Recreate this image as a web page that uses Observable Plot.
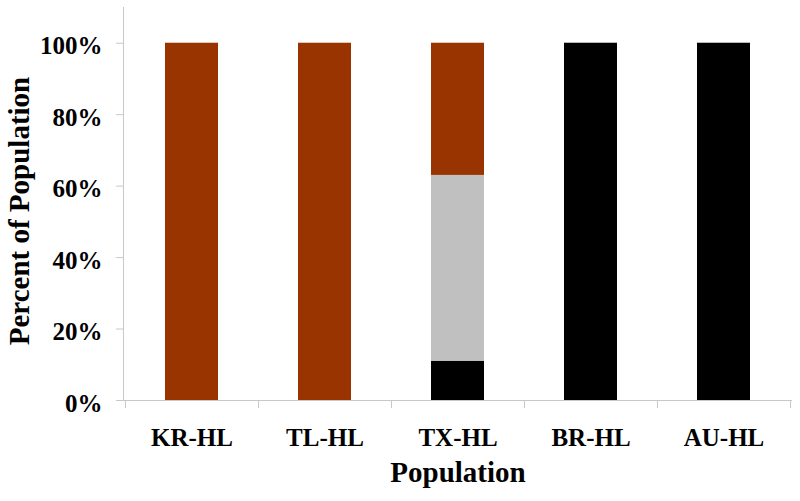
<!DOCTYPE html>
<html>
<head>
<meta charset="utf-8">
<script src="https://cdn.jsdelivr.net/npm/d3@7"></script>
<script src="https://cdn.jsdelivr.net/npm/@observablehq/plot@0.6"></script>
<style>
  html, body { margin: 0; padding: 0; background: #fff; }
</style>
</head>
<body>
<div id="chart"></div>
<script>
// ---- data ----
const populations = ["KR-HL", "TL-HL", "TX-HL", "BR-HL", "AU-HL"];
const seriesNames = ["Group A", "Group B", "Group C"]; // stacked bottom to top
const groupA = [0, 0, 11, 100, 100];   // black
const groupB = [0, 0, 52, 0, 0];       // gray
const groupC = [100, 100, 37, 0, 0];   // brown
const seriesColors = ["#000000", "#c0c0c0", "#993300"];
const yTicks = [0, 20, 40, 60, 80, 100];
const xTitle = "Population";
const yTitle = "Percent of Population";

const seriesValues = [groupA, groupB, groupC];
const rows = [];
seriesNames.forEach((s, si) => {
  populations.forEach((p, pi) => rows.push({population: p, series: s, value: seriesValues[si][pi]}));
});

const axisGray = "#c8c8c8";
const fontFamily = "'Liberation Serif', 'Times New Roman', serif";

function axisLines(index, scales, values, dimensions) {
  const {width, height, marginLeft, marginRight, marginTop, marginBottom} = dimensions;
  const x = scales.x, y = scales.y;
  const y0 = y(0);
  const g = d3.create("svg:g").attr("stroke", axisGray).attr("fill", "none").attr("shape-rendering", "crispEdges");
  g.append("line").attr("x1", marginLeft).attr("x2", marginLeft).attr("y1", y0).attr("y2", marginTop);
  g.append("line").attr("x1", marginLeft).attr("x2", width - marginRight).attr("y1", y0).attr("y2", y0);
  const step = x.step(), pad = (step - x.bandwidth()) / 2;
  const dom = x.domain();
  const bounds = dom.map(d => x(d) - pad);
  bounds.push(x(dom[dom.length - 1]) - pad + step);
  bounds.forEach(b => {
    g.append("line").attr("x1", b).attr("x2", b).attr("y1", y0).attr("y2", y0 + 8);
  });
  return g.node();
}

const chart = Plot.plot({
  width: 800,
  height: 501,
  marginTop: 7,
  marginBottom: 101,
  marginLeft: 123,
  marginRight: 8,
  style: {fontFamily, fontWeight: "bold", color: "#000", background: "#fff"},
  x: {domain: populations, paddingInner: 0.6, paddingOuter: 0.3},
  y: {domain: [0, 110]},
  color: {domain: seriesNames, range: seriesColors},
  marks: [
    Plot.barY(rows, {x: "population", y: "value", fill: "series"}),
    axisLines,
    Plot.axisY({ticks: yTicks, tickFormat: () => "", tickSize: 7, label: null, stroke: axisGray}),
    Plot.axisY({ticks: yTicks, tickFormat: d => d + "%", tickSize: 0, tickPadding: 21, fontSize: 25, label: null, fill: "#000", dy: 3}),
    Plot.axisX({tickSize: 0, tickPadding: 28, fontSize: 25, label: null, fill: "#000"}),
    Plot.text([xTitle], {frameAnchor: "bottom", dy: 81, fontSize: 29, fill: "#000"}),
    Plot.text([yTitle], {frameAnchor: "left", textAnchor: "middle", rotate: -90, dx: -104, dy: 7, fontSize: 29, fill: "#000"})
  ]
});
document.getElementById("chart").appendChild(chart);
</script>
</body>
</html>
